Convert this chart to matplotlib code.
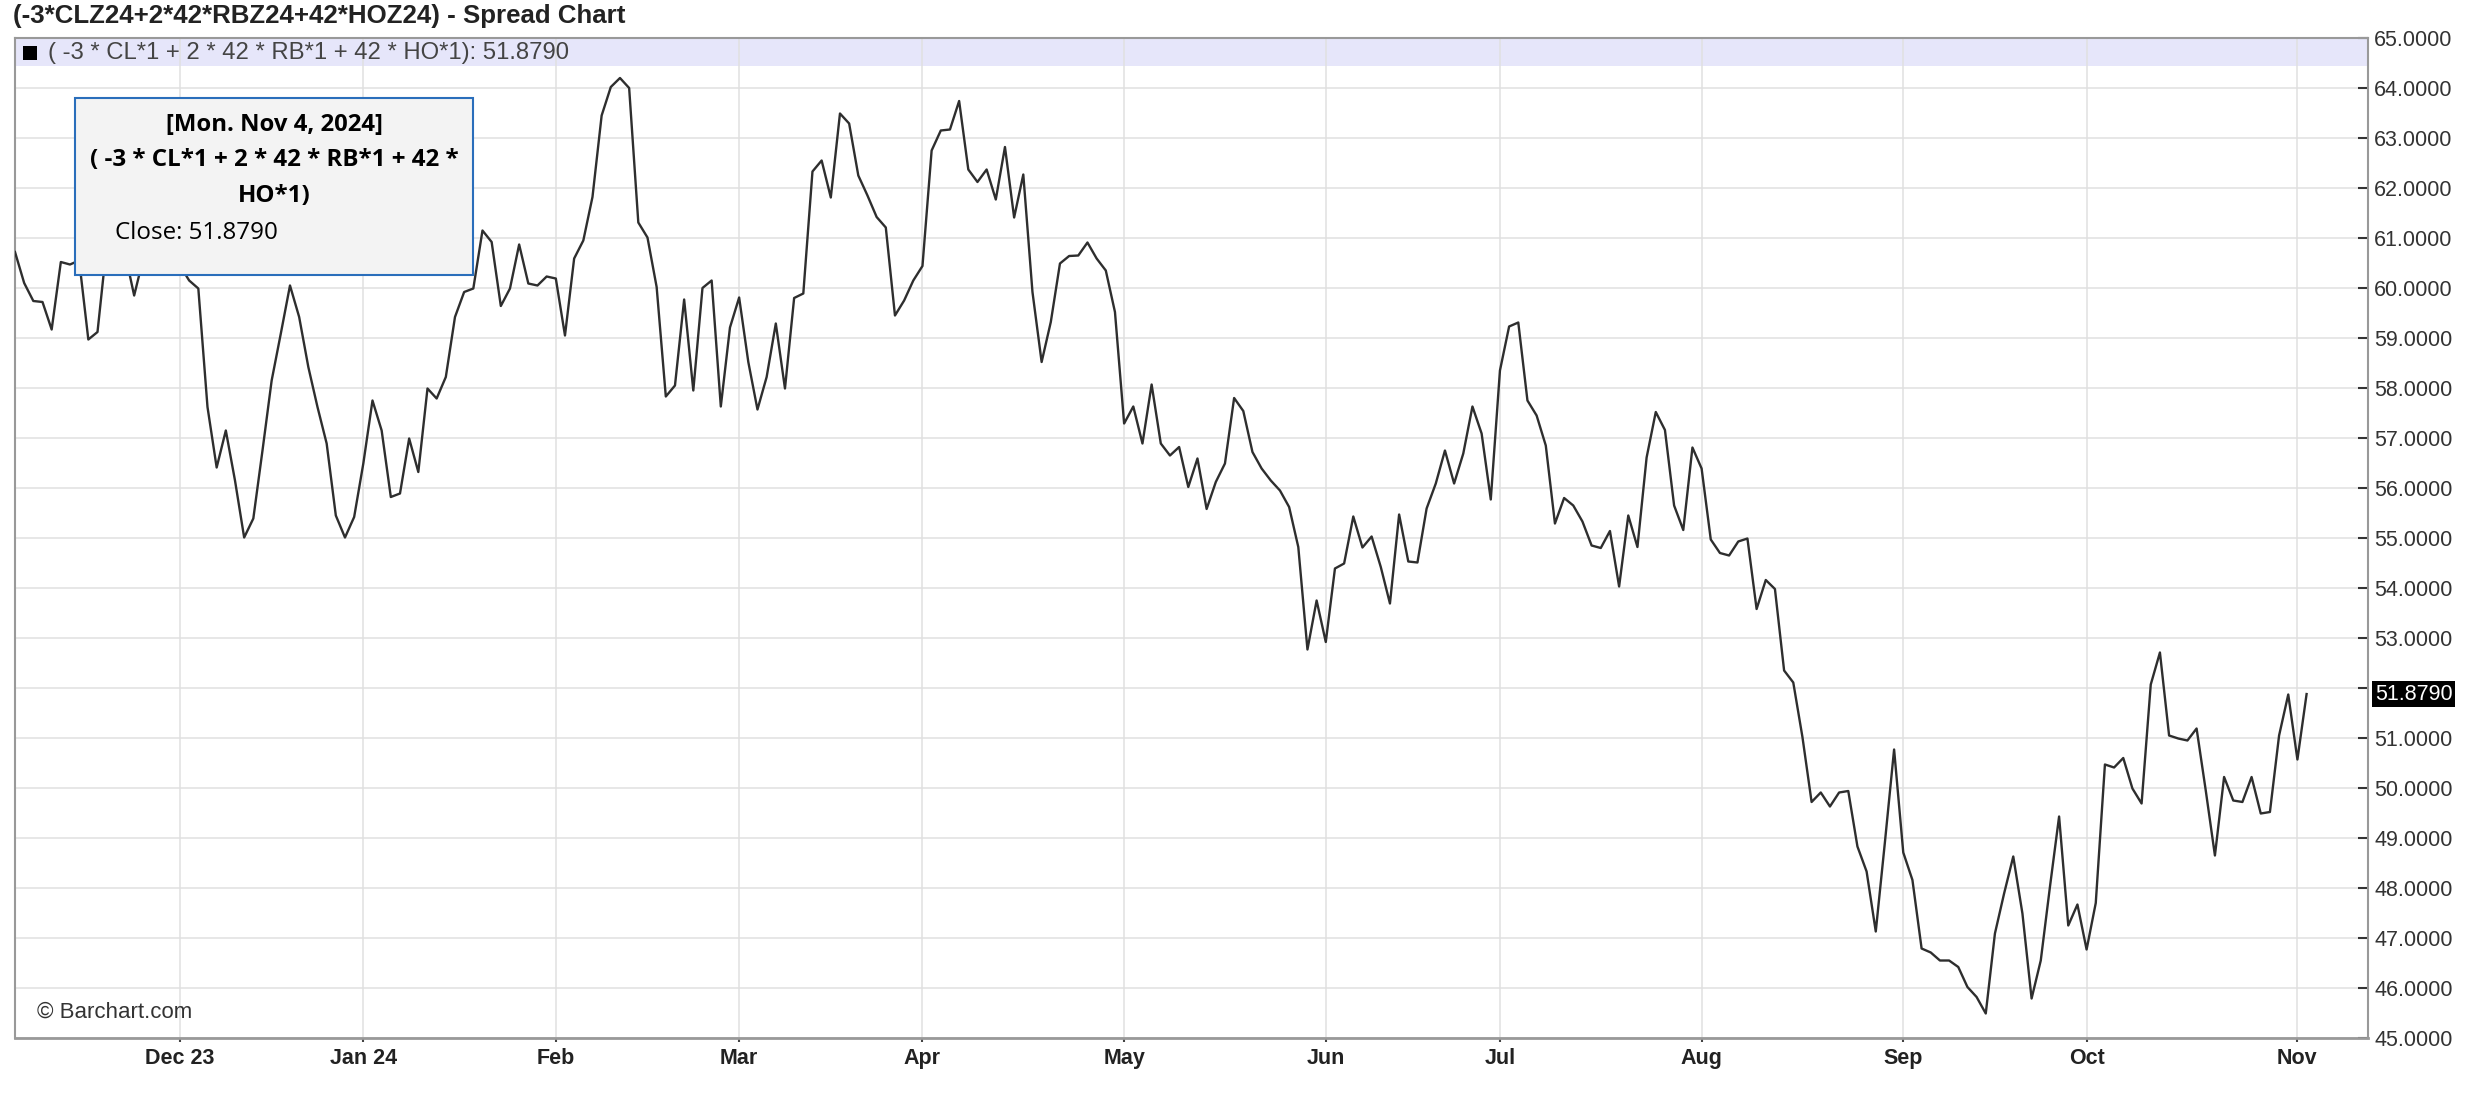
import matplotlib
matplotlib.use("Agg")
import matplotlib.pyplot as plt
import numpy as np
import pandas as pd
from matplotlib.patches import Rectangle
from matplotlib.ticker import MultipleLocator, FuncFormatter, FixedLocator

plt.rcParams['font.family'] = ['Liberation Sans', 'DejaVu Sans']

# ---------------- data ----------------
title = "(-3*CLZ24+2*42*RBZ24+42*HOZ24) - Spread Chart"
legend_label = "( -3 * CL*1 + 2 * 42 * RB*1 + 42 * HO*1): 51.8790"
tooltip_date = "[Mon. Nov 4, 2024]"
tooltip_name = ["( -3 * CL*1 + 2 * 42 * RB*1 + 42 *", "HO*1)"]
tooltip_close = "Close: 51.8790"
copyright_text = "\u00a9 Barchart.com"
last_value = 51.879

holidays = ["2023-11-23", "2023-12-25", "2024-01-01", "2024-01-15", "2024-02-19",
            "2024-03-29", "2024-05-27", "2024-06-19", "2024-07-04", "2024-09-02"]
dates = pd.bdate_range("2023-11-06", "2024-11-04", freq="C", holidays=holidays)

month_labels = ["Dec 23", "Jan 24", "Feb", "Mar", "Apr", "May", "Jun",
                "Jul", "Aug", "Sep", "Oct", "Nov"]

values = [
    60.72, 60.10, 59.74, 59.72, 59.17, 60.52, 60.47, 60.55, 58.97, 59.12,
    60.85, 61.20, 60.70, 59.85, 60.60, 61.00, 60.80, 60.60, 60.45, 60.15,
    59.99, 57.62, 56.41, 57.15, 56.15, 55.01, 55.39, 56.75, 58.15, 59.09,
    60.05, 59.42, 58.42, 57.62, 56.89, 55.45, 55.01, 55.42, 56.49, 57.75,
    57.15, 55.82, 55.89, 56.99, 56.32, 57.99, 57.79, 58.22, 59.42, 59.92,
    59.99, 61.15, 60.92, 59.64, 59.99, 60.87, 60.09, 60.05, 60.23, 60.19,
    59.05, 60.59, 60.95, 61.82, 63.45, 64.02, 64.20, 64.00, 61.31, 61.01,
    60.02, 57.83, 58.05, 59.77, 57.95, 60.00, 60.15, 57.63, 59.21, 59.81,
    58.52, 57.57, 58.22, 59.29, 57.99, 59.80, 59.89, 62.33, 62.55, 61.81,
    63.49, 63.29, 62.25, 61.85, 61.42, 61.21, 59.45, 59.75, 60.15, 60.44,
    62.75, 63.15, 63.17, 63.74, 62.37, 62.12, 62.37, 61.77, 62.82, 61.41,
    62.27, 59.92, 58.52, 59.32, 60.49, 60.64, 60.65, 60.91, 60.59, 60.35,
    59.52, 57.29, 57.63, 56.89, 58.07, 56.89, 56.65, 56.82, 56.02, 56.59,
    55.58, 56.12, 56.49, 57.80, 57.54, 56.72, 56.39, 56.15, 55.95, 55.62,
    54.82, 52.77, 53.75, 52.92, 54.39, 54.49, 55.43, 54.81, 55.03, 54.42,
    53.69, 55.47, 54.53, 54.51, 55.59, 56.09, 56.75, 56.09, 56.69, 57.63,
    57.09, 55.77, 58.35, 59.23, 59.31, 57.75, 57.45, 56.85, 55.29, 55.80,
    55.65, 55.33, 54.85, 54.80, 55.14, 54.03, 55.45, 54.82, 56.61, 57.52,
    57.16, 55.65, 55.16, 56.81, 56.39, 54.97, 54.70, 54.65, 54.93, 54.99,
    53.58, 54.16, 53.98, 52.35, 52.11, 51.02, 49.72, 49.91, 49.63, 49.91,
    49.94, 48.83, 48.33, 47.13, 48.92, 50.77, 48.71, 48.16, 46.79, 46.71,
    46.55, 46.55, 46.42, 46.02, 45.82, 45.49, 47.09, 47.89, 48.63, 47.49,
    45.79, 46.55, 48.02, 49.43, 47.25, 47.67, 46.77, 47.70, 50.47, 50.41,
    50.60, 49.99, 49.69, 52.07, 52.71, 51.05, 50.99, 50.95, 51.19, 49.95,
    48.65, 50.22, 49.75, 49.72, 50.22, 49.49, 49.52, 51.05, 51.87, 50.57,
    51.879,
]

n = min(len(values), len(dates))
x = np.arange(n)
y = np.array(values[:n])

months = dates[:n].to_period("M")
tick_pos = [i for i in range(1, n) if months[i] != months[i - 1]]

# ---------------- figure ----------------
W, H = 2482, 1100
fig = plt.figure(figsize=(W / 100, H / 100), dpi=100)
fig.patch.set_facecolor("white")

def fx(px):
    return px / W

def fy(py):
    return 1 - py / H

ax = fig.add_axes([fx(15), 62 / H, (2368 - 15) / W, (1038 - 38) / H])
ax.set_facecolor("white")

ax.plot(x, y, color="#2e2e2e", lw=1.7, zorder=3)

ax.set_xlim(0, 256.7)
ax.set_ylim(45, 65)

# legend band
ax.axhspan(64.43, 65, color="#e6e6fa", zorder=0.2, lw=0)

ax.set_axisbelow(True)
ax.grid(True, color="#e0e0e0", lw=1.1)

ax.yaxis.tick_right()
ax.yaxis.set_major_locator(MultipleLocator(1))
ax.yaxis.set_major_formatter(
    FuncFormatter(lambda v, p: "" if abs(v - last_value) < 0.5 else f"{v:.4f}"))
ax.tick_params(axis="y", direction="in", length=7, width=1.5, color="#333333",
               labelcolor="#333333", labelsize=15.5, pad=4.5)

ax.xaxis.set_major_locator(FixedLocator(tick_pos))
ax.set_xticklabels(month_labels[:len(tick_pos)], fontweight="bold")
ax.tick_params(axis="x", direction="out", length=3, width=1.5, color="#444444",
               labelcolor="#222222", labelsize=15.5, pad=4)

for side in ["left", "right", "top", "bottom"]:
    ax.spines[side].set_color("#999999")
    ax.spines[side].set_linewidth(1.5)
ax.spines["bottom"].set_linewidth(2.0)

# last value marker
ax.annotate(f"{last_value:.4f}", xy=(1, last_value), xycoords=ax.get_yaxis_transform(),
            xytext=(7, 0), textcoords="offset pixels", ha="left", va="center",
            color="white", fontsize=15.5,
            bbox=dict(boxstyle="square,pad=0.12", fc="black", ec="none"),
            annotation_clip=False, zorder=10)

# title
fig.text(fx(13), fy(23), title, fontsize=18.6, fontweight="bold", color="#222222",
         ha="left", va="baseline")

# legend entry
fig.add_artist(Rectangle((fx(23), fy(60)), 14 / W, 14 / H, transform=fig.transFigure,
                         facecolor="black", edgecolor="none", zorder=4))
fig.text(fx(48), fy(53.5), legend_label, fontsize=17.2, color="#444444",
         ha="left", va="center", zorder=4)

# copyright
fig.text(fx(37), fy(1012), copyright_text, fontsize=16, color="#333333",
         ha="left", va="center")

# tooltip
fig.add_artist(Rectangle((fx(75), fy(275)), 398 / W, 177 / H, transform=fig.transFigure,
                         facecolor="#f3f3f3", edgecolor="#2a6ebb", lw=1.5, zorder=5))
tt_font = ["Open Sans", "DejaVu Sans"]
fig.text(fx(274), fy(125), tooltip_date, family=tt_font, fontsize=17.2,
         fontweight="bold", color="black", ha="center", va="center", zorder=6)
fig.text(fx(274), fy(160), tooltip_name[0], family=tt_font, fontsize=17.4,
         fontweight="bold", color="black", ha="center", va="center", zorder=6)
fig.text(fx(274), fy(196), tooltip_name[1], family=tt_font, fontsize=17.4,
         fontweight="bold", color="black", ha="center", va="center", zorder=6)
fig.text(fx(115), fy(233), tooltip_close, family=tt_font, fontsize=17.4,
         color="black", ha="left", va="center", zorder=6)

fig.savefig("out.png", dpi=100, facecolor="white")
